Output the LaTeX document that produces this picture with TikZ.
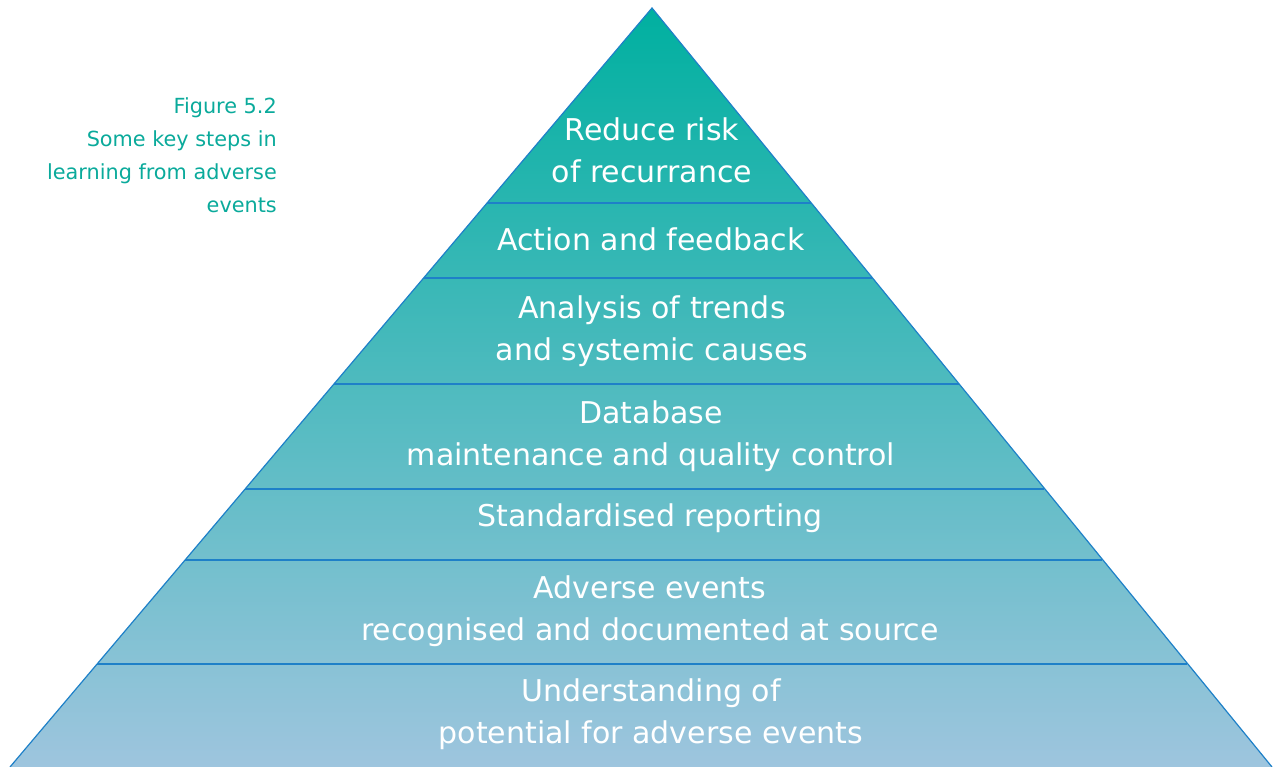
\documentclass[tikz,border=0pt]{standalone}
\usepackage{fontspec}
\setmainfont{DejaVu Sans}
\definecolor{toptc}{RGB}{0,176,160}
\definecolor{bottc}{RGB}{158,197,222}
\definecolor{edgec}{RGB}{30,128,200}
\definecolor{capc}{RGB}{10,170,155}
\tikzset{
  layertext/.style={text=white, align=center, font=\fontsize{30}{42}\selectfont, inner sep=0pt},
  captext/.style={text=capc, align=right, font=\fontsize{20.8}{33}\selectfont, inner sep=0pt, anchor=north east},
  divline/.style={draw=edgec, line width=1.2pt}
}
\begin{document}
\begin{tikzpicture}[x=1pt,y=-1pt]
\useasboundingbox (0,0) rectangle (1279,767);
\coordinate (apex) at (652,8);
\coordinate (bl) at (10,767);
\coordinate (br) at (1272,767);
\shade[top color=toptc, bottom color=bottc] (apex) -- (br) -- (bl) -- cycle;
\draw[edgec, line width=1.2pt] (bl) -- (apex) -- (br);
% dividing lines
\foreach \y in {203,278,384,489,560,664}{
  \draw[divline] ({652-0.8458*(\y-8)},\y) -- ({652+0.8155*(\y-8)},\y);
}
\node[layertext] (l1) at (652,150) {Reduce risk\\of recurrance};
\node[layertext] (l2) at (651,239) {Action and feedback};
\node[layertext] (l3) at (652,331) {Analysis of trends\\and systemic causes};
\node[layertext] (l4) at (651,436) {Database\\maintenance and quality control};
\node[layertext] (l5) at (650,518) {Standardised reporting};
\node[layertext] (l6) at (650,611) {Adverse events\\recognised and documented at source};
\node[layertext] (l7) at (651,714) {Understanding of\\potential for adverse events};
\node[captext] (cap) at (277,97) {Figure 5.2\\Some key steps in\\learning from adverse\\events};
\end{tikzpicture}
\end{document}
